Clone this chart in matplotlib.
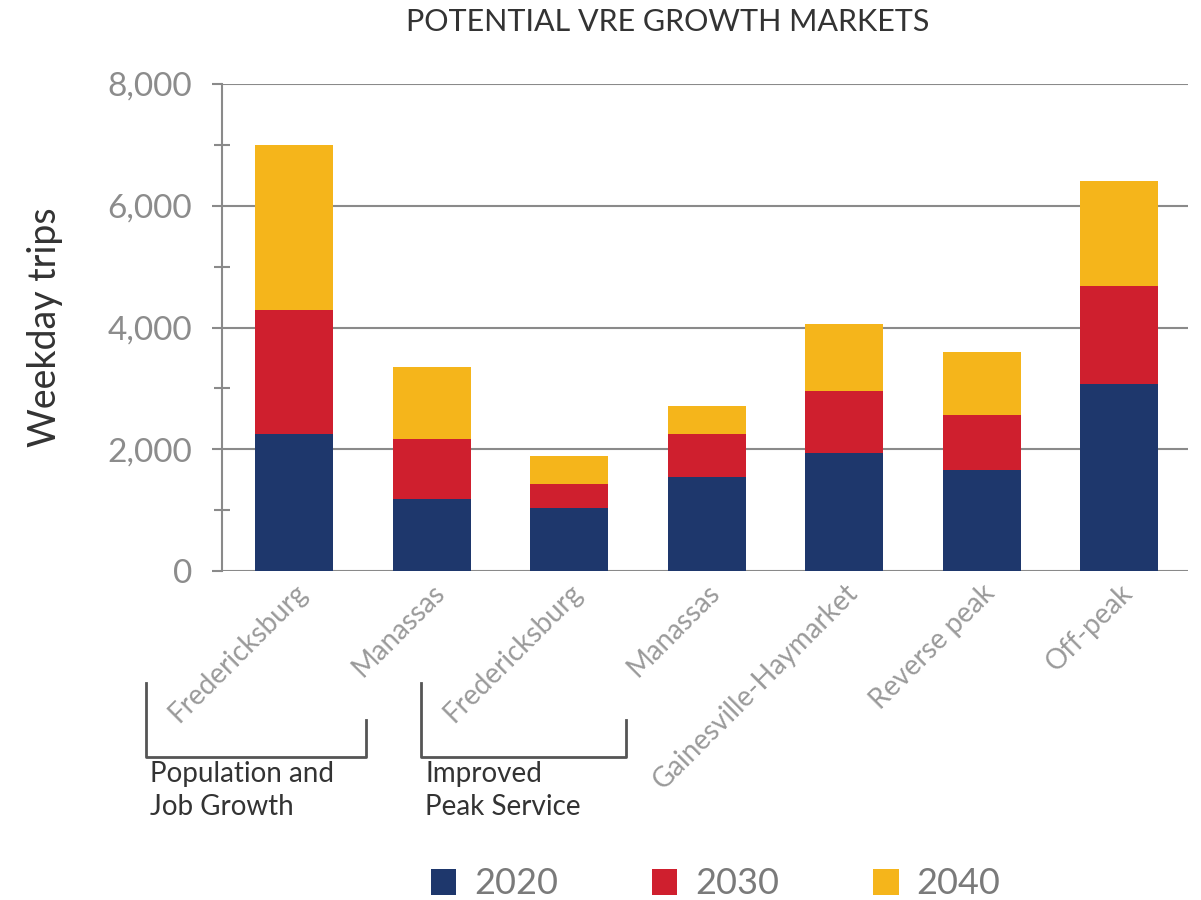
import matplotlib
matplotlib.use("Agg")
import matplotlib.pyplot as plt
import numpy as np
from matplotlib.ticker import MultipleLocator, FuncFormatter
from matplotlib.lines import Line2D

categories = ["Fredericksburg", "Manassas", "Fredericksburg", "Manassas",
              "Gainesville-Haymarket", "Reverse peak", "Off-peak"]
years = ["2020", "2030", "2040"]
# stacked increments
v2020 = [2250, 1190, 1035, 1545, 1935, 1660, 3070]
v2030 = [2040, 980, 390, 705, 1020, 905, 1615]
v2040 = [2710, 1180, 470, 465, 1105, 1025, 1725]
colors = ["#1E376C", "#CF1F2E", "#F5B51B"]

groups = ["Population and\nJob Growth", "Improved\nPeak Service"]

plt.rcParams['font.family'] = ['Lato', 'DejaVu Sans']

fig = plt.figure(figsize=(12.01, 9.0), dpi=100)
ax = fig.add_axes([222/1201, 1-571/900, (1188-222)/1201, (571-84)/900])

x = np.arange(len(categories))
bottom = np.zeros(len(categories))
handles = []
for vals, col, yr in zip([v2020, v2030, v2040], colors, years):
    b = ax.bar(x, vals, bottom=bottom, width=0.57, color=col, label=yr, zorder=3)
    bottom += np.array(vals)
    handles.append(b)

ax.set_ylim(0, 8000)
ax.set_xlim(-0.525, 6.5)
ax.yaxis.set_major_locator(MultipleLocator(2000))
ax.yaxis.set_minor_locator(MultipleLocator(1000))
ax.yaxis.set_major_formatter(FuncFormatter(lambda v, p: f"{int(v):,}"))
ax.grid(axis='y', which='major', color='#8a8a8a', linewidth=1.5, zorder=1)
for s in ['top', 'right', 'bottom']:
    ax.spines[s].set_visible(False)
ax.spines['left'].set_color('#8a8a8a')
ax.spines['left'].set_linewidth(1.5)
ax.tick_params(axis='y', which='major', length=7.5, width=1.5, color='#8a8a8a',
               labelsize=24, labelcolor='#8c8c8c', pad=14)
ax.tick_params(axis='y', which='minor', length=11.5, width=1.5, color='#8a8a8a',
               direction='inout')
ax.tick_params(axis='x', length=0, pad=6)
ax.set_xticks(x)
ax.set_xticklabels(categories, rotation=45, ha='right', va='top',
                   rotation_mode='anchor', fontsize=20, color='#9a9a9a')
ax.set_ylabel("Weekday trips", fontsize=27, color='#333333', labelpad=32)

fig.text(668/1201, 1-22/900, "POTENTIAL VRE GROWTH MARKETS", ha='center',
         va='center', fontsize=22, color='#333333')

# group brackets (figure pixel coordinates)
def px(xp, yp):
    return xp/1201, 1-yp/900

br = [(146, 366), (421, 626)]
for (xl, xr), g in zip(br, groups):
    xs = [px(xl, 683)[0], px(xl, 757)[0], px(xr, 757)[0], px(xr, 720)[0]]
    ys = [px(xl, 683)[1], px(xl, 757)[1], px(xr, 757)[1], px(xr, 720)[1]]
    fig.add_artist(Line2D(xs, ys, color='#555555', linewidth=2))
    fig.text(px(xl + 4, 0)[0], px(0, 761)[1], g, ha='left', va='top',
             fontsize=20, color='#333333', linespacing=1.35)

leg = fig.legend(handles=handles, loc='center', bbox_to_anchor=(0.596, 1-884/900),
                 ncol=3, frameon=False, fontsize=26, handlelength=0.7,
                 handleheight=0.7, handletextpad=0.5, columnspacing=2.6)
for t in leg.get_texts():
    t.set_color('#7a7a7a')

fig.savefig("out.png", dpi=100)
